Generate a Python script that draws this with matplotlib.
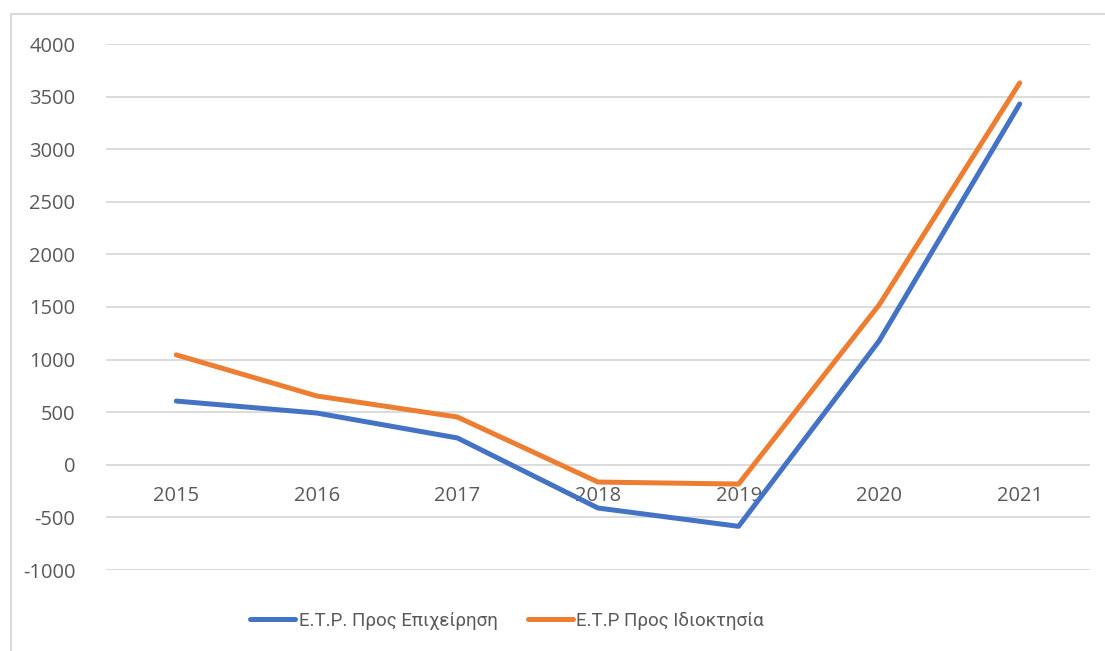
import matplotlib.pyplot as plt
from matplotlib import transforms
from matplotlib.patches import Rectangle

years = ['2015', '2016', '2017', '2018', '2019', '2020', '2021']
etp_business = [606, 492, 255, -411, -585, 1178, 3430]
etp_ownership = [1045, 654, 454, -164, -183, 1520, 3630]
labels = ['Ε.Τ.Ρ. Προς Επιχείρηση', 'Ε.Τ.Ρ Προς Ιδιοκτησία']

plt.rcParams['font.family'] = ['Open Sans', 'DejaVu Sans']
plt.rcParams['axes.unicode_minus'] = False
txt = '#595959'
fs = 14.5

fig = plt.figure(figsize=(11.05, 6.51), dpi=100)
# chart border
fig.patches.append(Rectangle((11/1105, -0.05), 1.2, (651-14)/651 + 0.05,
                             transform=fig.transFigure, fill=False,
                             edgecolor='#d9d9d9', lw=1.5))

ax = fig.add_axes([106/1105, 1-570/651, (1090-106)/1105, (570-44)/651])
x = range(len(years))
ax.plot(x, etp_business, color='#4472c4', lw=3.6, solid_capstyle='round',
        solid_joinstyle='round', label=labels[0], zorder=3)
ax.plot(x, etp_ownership, color='#ed7d31', lw=3.6, solid_capstyle='round',
        solid_joinstyle='round', label=labels[1], zorder=3)

ax.set_xlim(-0.5, len(years) - 0.5)
ax.set_ylim(-1000, 4000)
ax.set_yticks(range(-1000, 4001, 500))
ax.grid(axis='y', color='#d9d9d9', lw=1.3)
ax.set_axisbelow(True)
ax.set_xticks([])
ax.tick_params(axis='y', length=0, pad=22, labelsize=fs, labelcolor=txt)
for s in ax.spines.values():
    s.set_visible(False)

# category labels sit under the zero line
off = transforms.offset_copy(ax.transData, fig=fig, x=0, y=-31, units='dots')
for i, yr in enumerate(years):
    ax.text(i, 0, yr, transform=off, ha='center', va='center',
            fontsize=fs, color=txt, zorder=2)

leg = fig.legend(loc='center', bbox_to_anchor=(507/1105, 1-621/651), ncol=2,
                 frameon=False, prop={'family': ['Roboto', 'DejaVu Sans'], 'size': 13.5},
                 labelcolor=txt, handlelength=2.4, handletextpad=0.2,
                 columnspacing=1.6)

fig.savefig('out.png', dpi=100)
